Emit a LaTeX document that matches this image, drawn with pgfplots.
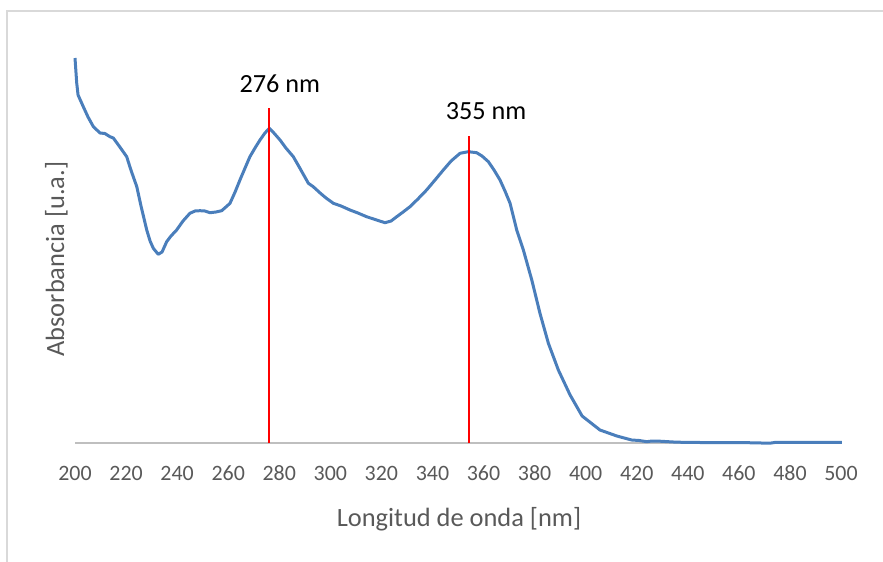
\documentclass[border=0pt]{standalone}
\usepackage{pgfplots}
\pgfplotsset{compat=1.18}
\usepackage{fontspec}
\setmainfont{Carlito}
\definecolor{curveblue}{HTML}{4A7EBB}
\definecolor{framegray}{HTML}{D9D9D9}
\definecolor{axisgray}{HTML}{BFBFBF}
\definecolor{textgray}{HTML}{595959}
\definecolor{peakred}{HTML}{FF0000}
\begin{document}
\begin{tikzpicture}
\useasboundingbox (-75bp,-119bp) rectangle (808bp,443bp);
\begin{scope}
\clip (-75bp,-119bp) rectangle (808bp,443bp);
\draw[color=framegray, line width=1.6bp] (-68bp,-200bp) -- (-68bp,432bp) -- (900bp,432bp);
\end{scope}
\begin{axis}[
  at={(0,0)}, anchor=south west,
  scale only axis, width=766bp, height=400bp,
  xmin=200, xmax=500, ymin=0, ymax=4,
  axis x line=bottom, axis y line=none,
  axis line style={-, color=axisgray, line width=1.6bp},
  xtick={200,220,...,500}, ytick=\empty,
  major tick length=0pt,
  /pgf/number format/assume math mode=true,
  tick label style={font=\fontsize{22}{26}\selectfont, color=textgray},
  xticklabel style={anchor=base, yshift=-37.5bp},
  clip=false,
]
\addplot[color=curveblue, line width=3bp, line join=round] coordinates {
(200,3.85) (200.67,3.60) (201.2,3.48) (203.25,3.363) (205.1,3.26) (207.2,3.163)
(209.8,3.10) (211.7,3.095) (213.7,3.063) (215.0,3.05) (217.0,2.98) (218.4,2.93)
(220.25,2.863) (221.9,2.73) (224.2,2.563) (225.85,2.37) (228.1,2.13) (229.4,2.02)
(230.67,1.947) (232.6,1.887) (234.1,1.91) (235.9,2.013) (237.6,2.07) (239.8,2.13)
(242.3,2.22) (245.0,2.297) (247.0,2.32) (248.96,2.323) (250.9,2.32) (252.9,2.303)
(255.2,2.31) (257.45,2.323) (259.1,2.36) (260.7,2.397) (262.7,2.51) (264.6,2.63)
(266.6,2.75) (268.5,2.863) (270.5,2.95) (272.45,3.03) (274.4,3.10) (276.1,3.147)
(277.9,3.10) (280.3,3.03) (282.6,2.95) (285.5,2.863) (288.1,2.747) (291.4,2.597)
(293.3,2.563) (296.0,2.50) (298.3,2.45) (301.2,2.397) (304.2,2.37) (307.7,2.33)
(310.8,2.30) (314.2,2.263) (317.5,2.235) (321.4,2.203) (323.8,2.22) (326.0,2.263)
(328.5,2.31) (331.2,2.363) (334.3,2.44) (337.7,2.53) (341.0,2.63) (344.25,2.73)
(347.3,2.82) (350.8,2.897) (354.0,2.913) (357.3,2.903) (359.4,2.87) (361.9,2.813)
(364.1,2.73) (366.45,2.63) (368.4,2.52) (370.4,2.397) (373.0,2.13) (375.6,1.93)
(378.9,1.63) (382.1,1.297) (385.4,0.997) (389.3,0.73) (393.9,0.48) (398.6,0.27)
(405.6,0.13) (412.2,0.07) (418.0,0.03) (421.0,0.025) (423.9,0.013) (426.0,0.02)
(429.0,0.018) (435.7,0.008) (444.8,0.005) (460.0,0.005) (472.2,-0.002) (474.2,0.006)
(490.0,0.006) (500.3,0.007)
};
\addplot[draw=peakred, line width=2bp, solid, forget plot] coordinates {(276,0) (276,3.35)};
\addplot[draw=peakred, line width=2bp, solid, forget plot] coordinates {(354.5,0) (354.5,3.07)};
\node[anchor=base, font=\fontsize{26.3}{31}\selectfont, text=black] at (axis cs:280.2,3.51) {276 nm};
\node[anchor=base, font=\fontsize{26.3}{31}\selectfont, text=black] at (axis cs:361.0,3.24) {355 nm};
\node[anchor=base, font=\fontsize{26.5}{31}\selectfont, text=textgray] at (axis cs:350.4,-0.835) {Longitud de onda [nm]};
\node[anchor=base, rotate=90, font=\fontsize{26.5}{31}\selectfont, text=textgray] at (axis cs:195.7,1.84) {Absorbancia [u.a.]};
\end{axis}
\end{tikzpicture}
\end{document}
